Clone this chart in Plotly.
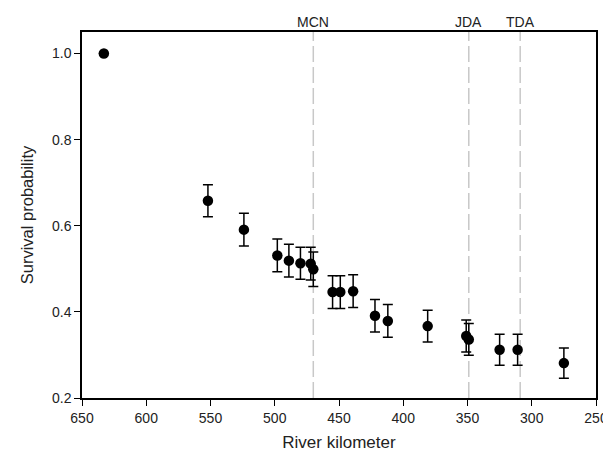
import plotly.graph_objects as go

river_km = [633, 552, 524, 498, 489, 480, 472, 470, 455, 449, 439, 422, 412, 381, 351, 349, 325, 311, 275]
survival = [1.0, 0.658, 0.591, 0.531, 0.519, 0.513, 0.512, 0.499, 0.446, 0.446, 0.448, 0.391, 0.379, 0.367, 0.344, 0.336, 0.312, 0.312, 0.281]
se = [0, 0.037, 0.038, 0.038, 0.038, 0.037, 0.038, 0.040, 0.038, 0.038, 0.038, 0.038, 0.038, 0.037, 0.037, 0.037, 0.036, 0.036, 0.035]

dam_names = ["MCN", "JDA", "TDA"]
dam_km = [470, 349, 309]

x_ticks = [650, 600, 550, 500, 450, 400, 350, 300, 250]
y_ticks = [0.2, 0.4, 0.6, 0.8, 1.0]

FONT = "Liberation Sans, Arial, sans-serif"

fig = go.Figure()

shapes = []
annotations = []
for name, km in zip(dam_names, dam_km):
    shapes.append(dict(type="line", xref="x", yref="paper", x0=km, x1=km, y0=0, y1=1,
                       line=dict(color="#c8c8c8", width=1.5, dash="16px,5px"), layer="below"))
    annotations.append(dict(x=km, xref="x", y=1, yref="paper", yanchor="bottom", xanchor="center",
                            text=name, showarrow=False, yshift=0,
                            font=dict(family=FONT, size=14, color="#222")))

fig.add_trace(go.Scatter(
    x=river_km, y=survival, mode="markers",
    marker=dict(color="black", size=10.5),
    error_y=dict(type="data", array=se, visible=True, color="black", thickness=1.5, width=5),
    showlegend=False,
))

fig.update_layout(
    width=611, height=452,
    margin=dict(l=74, r=11, t=24, b=59),
    paper_bgcolor="white", plot_bgcolor="white",
    font=dict(family=FONT, size=14, color="#222"),
    shapes=shapes,
    annotations=annotations,
    xaxis=dict(
        range=[650, 250], tickvals=x_ticks, ticktext=[str(v) for v in x_ticks],
        showgrid=False, zeroline=False,
        showline=True, linecolor="black", linewidth=1.5, mirror=True,
        ticks="outside", ticklen=6, tickwidth=1.2, tickcolor="black",
        title=dict(text="River kilometer", font=dict(size=17, family=FONT, color="#222"), standoff=12),
        tickfont=dict(size=14, family=FONT, color="#222"),
    ),
    yaxis=dict(
        range=[0.2, 1.05], tickvals=y_ticks, ticktext=[f"{v:.1f}" for v in y_ticks],
        showgrid=False, zeroline=False,
        showline=True, linecolor="black", linewidth=1.5, mirror=True,
        ticks="outside", ticklen=6, tickwidth=1.2, tickcolor="black",
        title=dict(text="Survival probability", font=dict(size=16.5, family=FONT, color="#222"), standoff=14),
        tickfont=dict(size=14, family=FONT, color="#222"),
    ),
)

fig.write_html("out.html")
